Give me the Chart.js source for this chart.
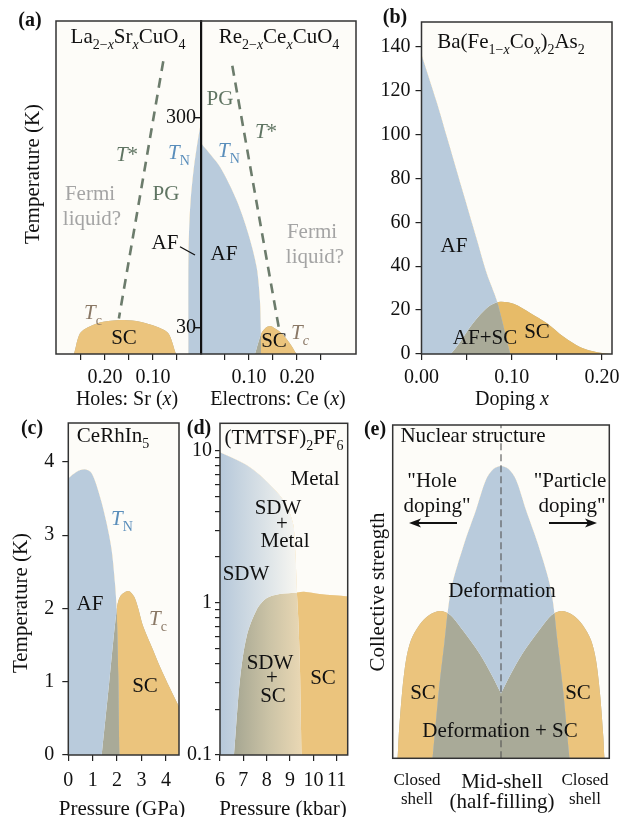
<!DOCTYPE html>
<html>
<head>
<meta charset="utf-8">
<script src="https://cdn.jsdelivr.net/npm/chart.js@4.4.1/dist/chart.umd.min.js"></script>
<style>
  html, body { margin: 0; padding: 0; background: #fff; }
  #wrap { position: relative; width: 632px; height: 817px; overflow: hidden; }
  #wrap canvas { position: absolute; left: 0; top: 0; }
</style>
</head>
<body>
<div id="wrap">
  <canvas id="pa" width="632" height="817"></canvas>
  <canvas id="pb" width="632" height="817"></canvas>
  <canvas id="pc" width="632" height="817"></canvas>
  <canvas id="pd" width="632" height="817"></canvas>
  <canvas id="pe" width="632" height="817"></canvas>
</div>
<script>
// ---- data ----
// (a) cuprates: x < 0 = holes (Sr), x > 0 = electrons (Ce), temperature in K
const aTicksX = [-0.25, -0.2, -0.15, -0.1, -0.05, 0.05, 0.1, 0.15, 0.2, 0.25];
const aTicksY = [30, 300];
const aAF = [[-0.302,-3.8],[-0.027,-3.8],[-0.0264,-3.8],[-0.0264,100],[-0.025,151],[-0.0215,194],[-0.0146,237],[-0.0076,267],[-0.002,288],[0,293],[0,269],[0.0118,259],[0.0396,237],[0.0743,194],[0.0986,151],[0.116,108],[0.1229,65],[0.125,20],[0.125,-3.8],[0.1255,-3.8],[0.323,-3.8]];
const aSC = [[-0.302,-3.8],[-0.266,-3.8],[-0.2646,-3.8],[-0.252,22.8],[-0.233,31.4],[-0.2035,37.8],[-0.16,40],[-0.127,37.8],[-0.092,31.4],[-0.068,22.8],[-0.052,-3.8],[-0.0505,-3.8],[0.111,-3.8],[0.1125,-3.8],[0.119,10],[0.126,22.8],[0.135,30],[0.144,32.2],[0.152,30],[0.168,22.8],[0.185,10],[0.199,-3.8],[0.2005,-3.8],[0.323,-3.8]];
const aTstarHole = [[-0.0785,373],[-0.171,42]];
const aTstarElec = [[0.0653,367],[0.1625,29]];

// (b) Ba(Fe1-xCox)2As2
const bTicksX = [0, 0.05, 0.1, 0.15, 0.2];
const bTicksY = [0, 20, 40, 60, 80, 100, 120, 140];
const bAF = [[0,136.4],[0.0169,114.6],[0.028,99],[0.0446,75.6],[0.0613,52.2],[0.0724,36.6],[0.0835,24.2],[0.0983,0],[0.099,0],[0.211,0]];
const bSC = [[0,0],[0.0317,0],[0.0324,0],[0.0428,5.5],[0.0557,13.3],[0.0724,21],[0.0854,23.7],[0.1019,22.9],[0.1204,18.7],[0.139,14],[0.1574,7.8],[0.176,3.1],[0.1946,0.8],[0.2094,0],[0.211,0]];

// (c) CeRhIn5, pressure in GPa, temperature in K
const cTicksX = [0, 1, 2, 3, 4];
const cTicksY = [0, 1, 2, 3, 4];
const cAF = [[0,3.775],[0.343,3.865],[0.684,3.898],[0.958,3.843],[1.299,3.524],[1.572,3.161],[1.777,2.797],[1.914,2.342],[1.982,1.978],[2.05,1.068],[2.091,0],[2.1,0],[4.537,0]];
const cSC = [[0,0],[1.36,0],[1.368,0],[1.675,0.99],[1.982,1.978],[2.119,2.16],[2.46,2.237],[2.734,2.137],[3.075,1.75],[3.417,1.478],[3.758,1.205],[4.168,0.91],[4.537,0.66]];

// (d) (TMTSF)2PF6, pressure in kbar, temperature in K (log)
const dTicksX = [6, 7, 8, 9, 10, 11];
const dTicksY = [0.1,0.2,0.3,0.4,0.5,0.6,0.7,0.8,0.9,1,2,3,4,5,6,7,8,9,10];
const dSDW = [[6,9.76],[6.567,8.91],[7.138,8.05],[7.705,6.92],[8.417,5.38],[8.843,4.39],[9.13,3.3],[9.2,2.5],[9.25,1.8],[9.29,1.2],[9.35,0.8],[9.42,0.4],[9.47,0.15],[9.49,0.1],[9.5,0.1],[11.47,0.1]];
const dSC = [[6,0.1],[6.58,0.1],[6.597,0.1],[6.853,0.311],[7.138,0.599],[7.565,0.897],[7.99,1.07],[8.559,1.14],[9.34,1.17],[9.6,1.18],[10.26,1.14],[11.47,1.1]];

// (e) nuclear structure, schematic: shell filling -1..1, collective strength 0..1
const eDef = [[-1,0],[-0.636,0],[-0.632,0],[-0.576,0.195],[-0.523,0.345],[-0.462,0.505],[-0.339,0.645],[-0.231,0.745],[-0.14,0.835],[-0.07,0.868],[0,0.877],[0.07,0.868],[0.14,0.835],[0.231,0.745],[0.339,0.645],[0.462,0.505],[0.523,0.345],[0.576,0.195],[0.632,0],[0.636,0],[1,0]];
const eSC = [[-1,0],[-0.96,0],[-0.955,0],[-0.945,0.065],[-0.914,0.195],[-0.877,0.295],[-0.831,0.355],[-0.754,0.40],[-0.662,0.43],[-0.56,0.442],[-0.468,0.43],[-0.354,0.385],[-0.2,0.315],[-0.077,0.245],[-0.006,0.199],[0,0.195],[0.006,0.199],[0.077,0.245],[0.2,0.315],[0.354,0.385],[0.468,0.43],[0.56,0.442],[0.662,0.43],[0.754,0.40],[0.831,0.355],[0.877,0.295],[0.914,0.195],[0.945,0.065],[0.955,0],[0.96,0],[1,0]];
const eMid = [[0,0],[0,1]];

// ---- colours ----
const BG = '#fdfcf8';
const BLUE = '#b9cbdc';
const ORANGE = '#ebc47d';
const ORANGE_B = '#e7bb68';
const MIX = '#a9aa98';
const DASH = '#6c7c6c';
const TN_COL = '#5a8ebb';
const TC_COL = '#8a7866';
const PG_COL = '#5f7462';
const FL_COL = '#a4a4a4';
const FONT = '"Liberation Serif", "Times New Roman", serif';

Chart.defaults.font.family = FONT;
Chart.defaults.font.size = 20;
Chart.defaults.color = '#111';
Chart.defaults.animation = false;
Chart.defaults.events = [];
Chart.defaults.plugins.legend.display = false;
Chart.defaults.plugins.tooltip.enabled = false;
Chart.defaults.elements.point.radius = 0;

const xy = a => a.map(p => ({ x: p[0], y: p[1] }));

// text labels, leader lines and arrows per panel (page pixels)
const DECO = {
  pa: {
    texts: [
      { t: '(a)', x: 30, y: 19, size: 20, bold: true },
      { t: [['La',''],['2\u2212','s'],['x','si'],['Sr',''],['x','si'],['CuO',''],['4','s']], x: 128, y: 36 },
      { t: [['Re',''],['2\u2212','s'],['x','si'],['Ce',''],['x','si'],['CuO',''],['4','s']], x: 279, y: 36 },
      { t: 'PG', x: 220, y: 98, color: PG_COL },
      { t: 'PG', x: 166, y: 193, color: PG_COL },
      { t: [['T','i'],['*','']], x: 127, y: 154, color: PG_COL },
      { t: [['T','i'],['*','']], x: 266, y: 131, color: PG_COL },
      { t: [['T','i'],['N','s']], x: 179, y: 152, color: TN_COL },
      { t: [['T','i'],['N','s']], x: 229, y: 150, color: TN_COL },
      { t: 'Fermi', x: 90, y: 193, color: FL_COL },
      { t: 'liquid?', x: 92, y: 218, color: FL_COL },
      { t: 'Fermi', x: 312, y: 231, color: FL_COL },
      { t: 'liquid?', x: 315, y: 256, color: FL_COL },
      { t: 'AF', x: 165, y: 242 },
      { t: 'AF', x: 224, y: 253 },
      { t: [['T','i'],['c','s']], x: 93, y: 312, color: TC_COL },
      { t: [['T','i'],['c','si']], x: 300, y: 332, color: TC_COL },
      { t: 'SC', x: 124, y: 337 },
      { t: 'SC', x: 274, y: 340 },
      { t: 'Temperature (K)', x: 32, y: 174, rot: -Math.PI / 2 },
      { t: [['Holes: Sr (',''],['x','i'],[')','']], x: 127, y: 398, size: 20 },
      { t: [['Electrons: Ce (',''],['x','i'],[')','']], x: 278, y: 398, size: 20 }
    ],
    lines: [[180, 246.7, 195, 255]]
  },
  pb: {
    texts: [
      { t: '(b)', x: 395, y: 16, size: 20, bold: true },
      { t: [['Ba(Fe',''],['1\u2212','s'],['x','si'],['Co',''],['x','si'],[')',''],['2','s'],['As',''],['2','s']], x: 511, y: 41 },
      { t: 'AF', x: 454, y: 245 },
      { t: 'AF+SC', x: 485, y: 337 },
      { t: 'SC', x: 537, y: 331 },
      { t: [['Doping ',''],['x','i']], x: 512, y: 398, size: 20 }
    ]
  },
  pc: {
    texts: [
      { t: '(c)', x: 32, y: 427, size: 20, bold: true },
      { t: [['CeRhIn',''],['5','s']], x: 113, y: 435 },
      { t: [['T','i'],['N','s']], x: 122, y: 518, color: TN_COL },
      { t: 'AF', x: 90, y: 603 },
      { t: [['T','i'],['c','s']], x: 158, y: 618, color: TC_COL },
      { t: 'SC', x: 145, y: 685 },
      { t: 'Temperature (K)', x: 20, y: 603, rot: -Math.PI / 2 },
      { t: 'Pressure (GPa)', x: 122, y: 808 }
    ]
  },
  pd: {
    texts: [
      { t: '(d)', x: 199, y: 427, size: 20, bold: true },
      { t: [['(TMTSF)',''],['2','s'],['PF',''],['6','s']], x: 284, y: 437 },
      { t: 'Metal', x: 315, y: 478 },
      { t: 'SDW', x: 278, y: 507 },
      { t: '+', x: 282, y: 523 },
      { t: 'Metal', x: 285, y: 540 },
      { t: 'SDW', x: 246, y: 573 },
      { t: 'SDW', x: 270, y: 662 },
      { t: '+', x: 272, y: 677 },
      { t: 'SC', x: 273, y: 695 },
      { t: 'SC', x: 323, y: 677 },
      { t: 'Pressure (kbar)', x: 283, y: 808 }
    ]
  },
  pe: {
    texts: [
      { t: '(e)', x: 375, y: 428, size: 20, bold: true },
      { t: 'Nuclear structure', x: 473, y: 435 },
      { t: '"Hole', x: 432, y: 480 },
      { t: 'doping"', x: 437, y: 505 },
      { t: '"Particle', x: 570, y: 480 },
      { t: 'doping"', x: 572, y: 505 },
      { t: 'Deformation', x: 502, y: 590 },
      { t: 'SC', x: 423, y: 692 },
      { t: 'SC', x: 578, y: 692 },
      { t: 'Deformation + SC', x: 500, y: 730 },
      { t: 'Collective strength', x: 377, y: 592, rot: -Math.PI / 2 },
      { t: 'Closed', x: 417, y: 779, size: 17 },
      { t: 'shell', x: 417, y: 798, size: 17 },
      { t: 'Closed', x: 585, y: 779, size: 17 },
      { t: 'shell', x: 585, y: 798, size: 17 },
      { t: 'Mid-shell', x: 502, y: 781 },
      { t: '(half-filling)', x: 502, y: 801 }
    ],
    arrows: [[457, 523, 409, 523], [549, 523, 597, 523]]
  }
};

function drawText(ctx, it) {
  const size = it.size || 21;
  const parts = Array.isArray(it.t) ? it.t : [[it.t, '']];
  const font = f => (f.indexOf('i') >= 0 ? 'italic ' : '') + (it.bold ? 'bold ' : '') +
    (f.indexOf('s') >= 0 ? Math.round(size * 0.68) : size) + 'px ' + FONT;
  let w = 0;
  parts.forEach(p => { ctx.font = font(p[1]); w += ctx.measureText(p[0]).width; });
  ctx.save();
  ctx.translate(it.x, it.y);
  if (it.rot) ctx.rotate(it.rot);
  ctx.fillStyle = it.color || '#111';
  ctx.textAlign = 'left';
  ctx.textBaseline = 'alphabetic';
  let x = -w / 2;
  parts.forEach(p => {
    ctx.font = font(p[1]);
    const dy = p[1].indexOf('s') >= 0 ? size * 0.28 : 0;
    ctx.fillText(p[0], x, size * 0.33 + dy);
    x += ctx.measureText(p[0]).width;
  });
  ctx.restore();
}

// cream plot background, frame, labels
const deco = {
  id: 'deco',
  beforeDraw(chart) {
    const a = chart.chartArea, ctx = chart.ctx;
    ctx.save();
    ctx.fillStyle = BG;
    ctx.fillRect(a.left, a.top, a.right - a.left, a.bottom - a.top);
    ctx.restore();
  },
  afterDraw(chart) {
    const a = chart.chartArea, ctx = chart.ctx;
    const d = DECO[chart.canvas.id] || {};
    ctx.save();
    ctx.strokeStyle = '#333';
    ctx.lineWidth = 1.5;
    ctx.strokeRect(a.left, a.top, a.right - a.left, a.bottom - a.top);
    ctx.strokeStyle = '#111';
    ctx.lineWidth = 1.3;
    (d.lines || []).forEach(l => {
      ctx.beginPath(); ctx.moveTo(l[0], l[1]); ctx.lineTo(l[2], l[3]); ctx.stroke();
    });
    ctx.lineWidth = 2;
    ctx.fillStyle = '#111';
    (d.arrows || []).forEach(l => {
      const dir = Math.sign(l[2] - l[0]);
      ctx.beginPath(); ctx.moveTo(l[0], l[1]); ctx.lineTo(l[2] - dir * 6, l[3]); ctx.stroke();
      ctx.beginPath();
      ctx.moveTo(l[2], l[3]);
      ctx.lineTo(l[2] - dir * 12, l[3] - 4.5);
      ctx.lineTo(l[2] - dir * 9, l[3]);
      ctx.lineTo(l[2] - dir * 12, l[3] + 4.5);
      ctx.closePath(); ctx.fill();
    });
    (d.texts || []).forEach(t => drawText(ctx, t));
    ctx.restore();
  }
};
Chart.register(deco);

// SC region, ordered region and their overlap from two boundary curves
function regions(sc, ord, mixCol, scCol, ordCol, base) {
  const none = 'rgba(0,0,0,0)';
  return [
    { data: xy(sc), fill: 'start', backgroundColor: mixCol, borderColor: none, borderWidth: 0, tension: 0.3, order: 30 },
    { data: xy(sc), fill: { target: base + 2, above: scCol, below: ordCol }, borderColor: none, borderWidth: 0, tension: 0.3, order: 20 },
    { data: xy(ord), fill: false, borderColor: none, borderWidth: 0, tension: 0.3, order: 10 }
  ];
}

function setTicks(list) {
  return s => { s.ticks = list.map(v => ({ value: v })); };
}

function xAxis(min, max, ticks, cb, pad) {
  return {
    type: 'linear', min: min, max: max,
    afterBuildTicks: setTicks(ticks),
    afterFit: s => { s.height = 40; },
    grid: { drawOnChartArea: false, drawTicks: true, tickLength: 6, color: '#222', lineWidth: 1.2 },
    border: { display: false },
    ticks: { autoSkip: false, maxRotation: 0, padding: pad, color: '#111', font: { size: 20 }, callback: cb }
  };
}

function yAxis(type, min, max, ticks, cb, width, tickLen, pad) {
  return {
    type: type, min: min, max: max,
    afterBuildTicks: setTicks(ticks),
    afterFit: s => { s.width = width; },
    grid: { drawOnChartArea: false, drawTicks: true, tickLength: tickLen, color: '#222', lineWidth: 1.2 },
    border: { display: false },
    ticks: { autoSkip: false, padding: pad, color: '#111', font: { size: 20 }, callback: cb }
  };
}

const W = 632, H = 817;
function pad(l, t, r, b, yw, xh) {
  return { left: l - yw, top: t, right: W - r, bottom: H - b - xh };
}

// (a)
new Chart(document.getElementById('pa'), {
  type: 'line',
  data: {
    datasets: regions(aSC, aAF, MIX, ORANGE, BLUE, 0).concat([
      { data: xy(aTstarHole), fill: false, borderColor: DASH, borderWidth: 2.6, borderDash: [10, 7], order: 0 },
      { data: xy(aTstarElec), fill: false, borderColor: DASH, borderWidth: 2.6, borderDash: [10, 7], order: 0 }
    ])
  },
  options: {
    responsive: false,
    layout: { padding: pad(56, 21, 356, 354, 0, 40) },
    scales: {
      x: xAxis(-0.302, 0.323, aTicksX, v => {
        const a = Math.abs(v);
        return (Math.abs(a - 0.1) < 1e-6 || Math.abs(a - 0.2) < 1e-6) ? a.toFixed(2) : '';
      }, 6),
      y: {
        type: 'linear', position: { x: 0 }, min: -3.8, max: 424.7,
        afterBuildTicks: setTicks(aTicksY),
        grid: { drawOnChartArea: false, drawTicks: true, tickLength: 6, color: '#111', lineWidth: 1.4, z: 2 },
        border: { display: true, color: '#111', width: 2.2, z: 2 },
        ticks: { padding: 2, color: '#111', font: { size: 20 }, z: 2, callback: v => v + ' ' }
      }
    }
  }
});

// (b)
new Chart(document.getElementById('pb'), {
  type: 'line',
  data: { datasets: regions(bSC, bAF, MIX, ORANGE_B, BLUE, 0) },
  options: {
    responsive: false,
    layout: { padding: pad(421.5, 22, 612, 354, 45, 40) },
    scales: {
      x: xAxis(0, 0.211, bTicksX, v => (Math.abs(v) < 1e-6 || Math.abs(v - 0.1) < 1e-6 || Math.abs(v - 0.2) < 1e-6) ? v.toFixed(2) : '', 6),
      y: yAxis('linear', 0, 151.2, bTicksY, v => v, 45, 6, 5)
    }
  }
});

// (c)
new Chart(document.getElementById('pc'), {
  type: 'line',
  data: { datasets: regions(cSC, cAF, MIX, ORANGE, BLUE, 0) },
  options: {
    responsive: false,
    layout: { padding: pad(68.3, 423, 179, 755, 40, 40) },
    scales: {
      x: xAxis(0, 4.537, cTicksX, v => v, 8),
      y: yAxis('linear', 0, 4.53, cTicksY, v => v, 40, 6, 8)
    }
  }
});

// (d) gradients across the SDW region
const dctx = document.getElementById('pd').getContext('2d');
const gBlue = dctx.createLinearGradient(220, 0, 297, 0);
gBlue.addColorStop(0, '#b6c8da');
gBlue.addColorStop(0.55, '#d9e1e6');
gBlue.addColorStop(1, '#f7f6f1');
const gMix = dctx.createLinearGradient(236, 0, 302, 0);
gMix.addColorStop(0, '#a8a893');
gMix.addColorStop(0.5, '#cbc3a6');
gMix.addColorStop(1, '#ead8b4');

new Chart(dctx, {
  type: 'line',
  data: { datasets: regions(dSC, dSDW, gMix, ORANGE, gBlue, 0) },
  options: {
    responsive: false,
    layout: { padding: pad(220, 423.3, 347.7, 755, 35, 40) },
    scales: {
      x: xAxis(6, 11.47, dTicksX, v => v, 8),
      y: yAxis('logarithmic', 0.1, 15.1, dTicksY, v => (v === 0.1 || v === 1 || v === 10) ? String(v) : '', 35, 5, 3)
    }
  }
});

// (e)
new Chart(document.getElementById('pe'), {
  type: 'line',
  data: {
    datasets: regions(eSC, eDef, MIX, ORANGE, BLUE, 0).concat([
      { data: xy(eMid), fill: false, borderColor: '#555', borderWidth: 1.1, borderDash: [7, 4], order: 0 }
    ])
  },
  options: {
    responsive: false,
    layout: { padding: pad(392.7, 425, 609.3, 758.3, 0, 0) },
    scales: {
      x: { type: 'linear', display: false, min: -1, max: 1 },
      y: { type: 'linear', display: false, min: 0, max: 1 }
    }
  }
});
</script>
</body>
</html>
